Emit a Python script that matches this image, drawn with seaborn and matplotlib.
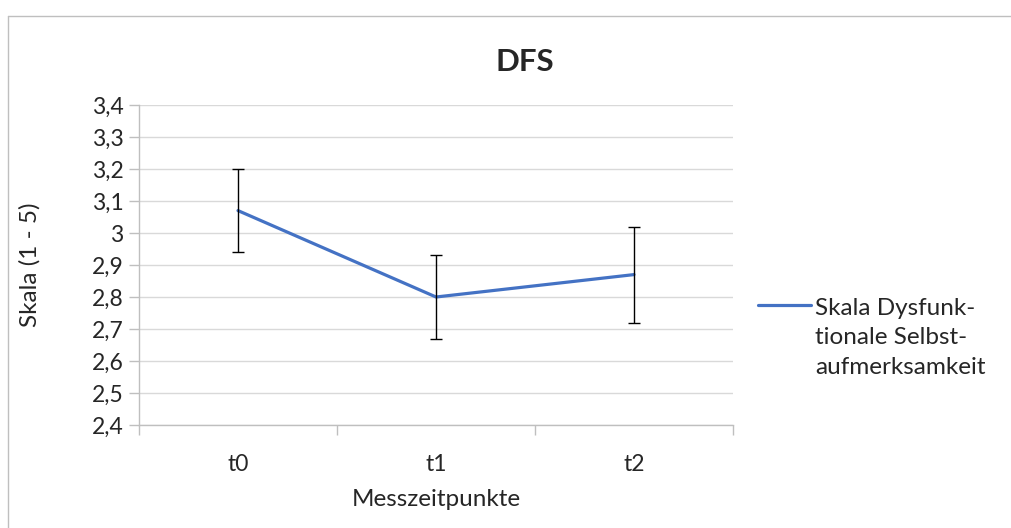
import numpy as np
import pandas as pd
import matplotlib
matplotlib.use("Agg")
import matplotlib.pyplot as plt
import seaborn as sns
from matplotlib.lines import Line2D

# values
zeitpunkte = ["t0", "t1", "t2"]
mittelwerte = [3.07, 2.80, 2.87]
fehler = [0.13, 0.13, 0.15]
y_ticks = [2.4, 2.5, 2.6, 2.7, 2.8, 2.9, 3.0, 3.1, 3.2, 3.3, 3.4]
legend_label = "Skala Dysfunk-\ntionale Selbst-\naufmerksamkeit"

sns.set_theme(style="white")
plt.rcParams['font.family'] = ['Lato', 'DejaVu Sans']

df = pd.DataFrame({"Messzeitpunkt": zeitpunkte, "Wert": mittelwerte, "SE": fehler})

W, H = 1011, 528
FS = 17.5
TICK_FS = 16.5
fig = plt.figure(figsize=(W / 100, H / 100), dpi=100)
ax = fig.add_axes([139 / W, 1 - 425 / H, (733 - 139) / W, (425 - 105) / H])

line_color = "#4472C4"
grid_color = "#D9D9D9"
axis_color = "#BFBFBF"

sns.lineplot(data=df, x="Messzeitpunkt", y="Wert", ax=ax, color=line_color,
             linewidth=2.3, sort=False)
ax.errorbar(range(len(zeitpunkte)), df["Wert"], yerr=df["SE"], fmt="none",
            ecolor="black", elinewidth=1.0, capsize=4.5, capthick=1.0, zorder=3)

ax.set_xlim(-0.5, len(zeitpunkte) - 0.5)
ax.set_ylim(2.4, 3.4)
ax.set_yticks(y_ticks)
ax.set_yticklabels([("%g" % v).replace(".", ",") for v in y_ticks])
ax.set_xticks(range(len(zeitpunkte)))
ax.set_xticklabels(zeitpunkte)
ax.set_xticks(np.arange(-0.5, len(zeitpunkte), 1.0), minor=True)

ax.yaxis.grid(True, color=grid_color, linewidth=1.0)
ax.xaxis.grid(False)
for side in ["top", "right"]:
    ax.spines[side].set_visible(False)
for side in ["left", "bottom"]:
    ax.spines[side].set_color(axis_color)
    ax.spines[side].set_linewidth(1.0)

ax.tick_params(axis="y", which="major", length=7, color=axis_color, width=1.0,
               labelsize=TICK_FS, pad=4, left=True)
ax.tick_params(axis="x", which="major", length=0, labelsize=TICK_FS, pad=21)
ax.tick_params(axis="x", which="minor", length=7, color=axis_color, width=1.0,
               bottom=True)

ax.set_xlabel("Messzeitpunkte", fontsize=FS)
ax.set_ylabel("Skala (1 - 5)", fontsize=FS)
ax.xaxis.set_label_coords(0.5, (425 - 500) / 320)
ax.yaxis.set_label_coords((30 - 139) / 594, 0.5)
ax.xaxis.label.set_va("center")
ax.yaxis.label.set_va("center")

fig.text(525 / W, 1 - 62 / H, "DFS", fontsize=22.5, fontweight="bold",
         ha="center", va="center")

handle = Line2D([], [], color=line_color, linewidth=2.3)
leg = fig.legend([handle], [legend_label], loc="center left",
                 bbox_to_anchor=(758 / W, 1 - 338 / H), frameon=False, fontsize=FS,
                 handlelength=2.2, handletextpad=0.15, borderaxespad=0, borderpad=0)
for t in leg.get_texts():
    t.set_linespacing(1.5)
# Excel puts the legend key next to the first line of a wrapped entry
for ln in leg.get_lines():
    ln.set_ydata(np.asarray(ln.get_ydata()) + 24)

# chart area border (top and left edges visible)
fig.add_artist(Line2D([8 / W, 1], [1 - 16 / H, 1 - 16 / H], color=axis_color,
                      linewidth=1.0, transform=fig.transFigure))
fig.add_artist(Line2D([8 / W, 8 / W], [0, 1 - 16 / H], color=axis_color,
                      linewidth=1.0, transform=fig.transFigure))

fig.savefig("out.png", dpi=100)
